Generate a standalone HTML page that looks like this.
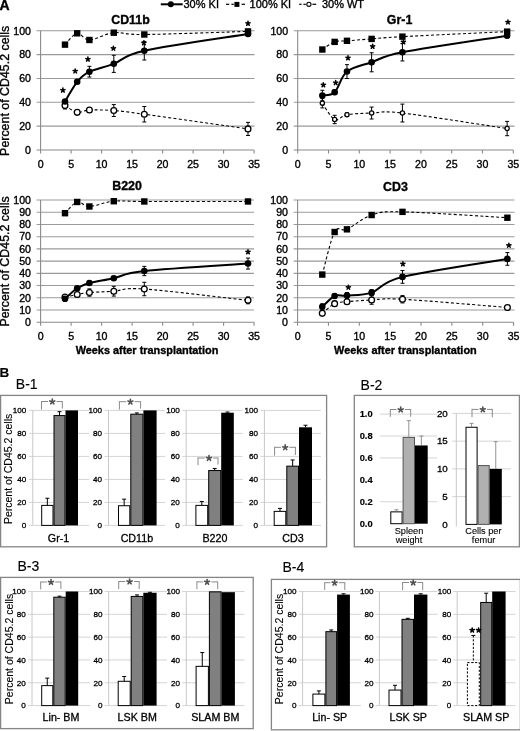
<!DOCTYPE html><html><head><meta charset="utf-8"><style>html,body{margin:0;padding:0;background:#fff;}svg{display:block;font-family:"Liberation Sans", sans-serif;filter:grayscale(1);}text{stroke:#000;stroke-width:0.35px;}.b text{stroke-width:0.12px;}</style></head><body>
<svg width="520" height="731" viewBox="0 0 520 731">
<rect x="0" y="0" width="520" height="731" fill="#fff" stroke="none" stroke-width="0"/>
<text x="-0.5" y="10.4" font-size="14" font-weight="bold" text-anchor="start" fill="#000">A</text>
<line x1="160.8" y1="4.3" x2="182.7" y2="4.3" stroke="#000" stroke-width="2"/>
<circle cx="170.8" cy="4.3" r="3" fill="#000"/>
<text x="183.5" y="8.3" font-size="11" text-anchor="start" fill="#000">30% KI</text>
<line x1="226" y1="4.3" x2="229.2" y2="4.3" stroke="#000" stroke-width="1.2"/>
<line x1="231.4" y1="4.3" x2="233.8" y2="4.3" stroke="#000" stroke-width="1.2"/>
<line x1="241.6" y1="4.3" x2="245" y2="4.3" stroke="#000" stroke-width="1.2"/>
<rect x="234.4" y="1.9" width="5" height="5" fill="#000" stroke="none" stroke-width="0"/>
<text x="249.6" y="8.3" font-size="11" text-anchor="start" fill="#000">100% KI</text>
<line x1="299.2" y1="4.3" x2="301.6" y2="4.3" stroke="#000" stroke-width="1.2"/>
<line x1="303.4" y1="4.3" x2="305.8" y2="4.3" stroke="#000" stroke-width="1.2"/>
<line x1="312.4" y1="4.3" x2="316.2" y2="4.3" stroke="#000" stroke-width="1.2"/>
<circle cx="308.9" cy="4.3" r="2.1" fill="#fff" stroke="#000" stroke-width="1.1"/>
<text x="321.9" y="8.3" font-size="11" text-anchor="start" fill="#000">30% WT</text>
<line x1="36.6" y1="126.16" x2="254.5" y2="126.16" stroke="#9a9a9a" stroke-width="1.1"/>
<line x1="36.6" y1="102.32" x2="254.5" y2="102.32" stroke="#9a9a9a" stroke-width="1.1"/>
<line x1="36.6" y1="78.48" x2="254.5" y2="78.48" stroke="#9a9a9a" stroke-width="1.1"/>
<line x1="36.6" y1="54.64" x2="254.5" y2="54.64" stroke="#9a9a9a" stroke-width="1.1"/>
<line x1="36.6" y1="30.8" x2="254.5" y2="30.8" stroke="#9a9a9a" stroke-width="1.1"/>
<line x1="40.6" y1="30.8" x2="40.6" y2="150" stroke="#8a8a8a" stroke-width="1.1"/>
<line x1="36.6" y1="150" x2="254.1" y2="150" stroke="#8a8a8a" stroke-width="1.1"/>
<line x1="40.6" y1="150" x2="40.6" y2="153.5" stroke="#8a8a8a" stroke-width="1.1"/>
<line x1="71.1" y1="150" x2="71.1" y2="153.5" stroke="#8a8a8a" stroke-width="1.1"/>
<line x1="101.6" y1="150" x2="101.6" y2="153.5" stroke="#8a8a8a" stroke-width="1.1"/>
<line x1="132.1" y1="150" x2="132.1" y2="153.5" stroke="#8a8a8a" stroke-width="1.1"/>
<line x1="162.6" y1="150" x2="162.6" y2="153.5" stroke="#8a8a8a" stroke-width="1.1"/>
<line x1="193.1" y1="150" x2="193.1" y2="153.5" stroke="#8a8a8a" stroke-width="1.1"/>
<line x1="223.6" y1="150" x2="223.6" y2="153.5" stroke="#8a8a8a" stroke-width="1.1"/>
<line x1="254.1" y1="150" x2="254.1" y2="153.5" stroke="#8a8a8a" stroke-width="1.1"/>
<text x="31" y="153.8" font-size="10.6" text-anchor="end" fill="#000">0</text>
<text x="31" y="129.96" font-size="10.6" text-anchor="end" fill="#000">20</text>
<text x="31" y="106.12" font-size="10.6" text-anchor="end" fill="#000">40</text>
<text x="31" y="82.28" font-size="10.6" text-anchor="end" fill="#000">60</text>
<text x="31" y="58.44" font-size="10.6" text-anchor="end" fill="#000">80</text>
<text x="31" y="34.6" font-size="10.6" text-anchor="end" fill="#000">100</text>
<text x="40.6" y="167.6" font-size="10.6" text-anchor="middle" fill="#000">0</text>
<text x="71.1" y="167.6" font-size="10.6" text-anchor="middle" fill="#000">5</text>
<text x="101.6" y="167.6" font-size="10.6" text-anchor="middle" fill="#000">10</text>
<text x="132.1" y="167.6" font-size="10.6" text-anchor="middle" fill="#000">15</text>
<text x="162.6" y="167.6" font-size="10.6" text-anchor="middle" fill="#000">20</text>
<text x="193.1" y="167.6" font-size="10.6" text-anchor="middle" fill="#000">25</text>
<text x="223.6" y="167.6" font-size="10.6" text-anchor="middle" fill="#000">30</text>
<text x="254.1" y="167.6" font-size="10.6" text-anchor="middle" fill="#000">35</text>
<text x="130.5" y="23.6" font-size="12.4" font-weight="bold" text-anchor="middle" fill="#000">CD11b</text>
<path d="M65,44.63 C67.03,42.74 73.13,34.08 77.2,33.3 C81.27,32.53 83.3,40.08 89.4,39.98 C95.5,39.88 104.65,33.62 113.8,32.71 C122.95,31.79 121.93,34.71 144.3,34.5 C166.67,34.28 230.72,31.91 248,31.4" fill="none" stroke="#000" stroke-width="1.1" stroke-dasharray="3 2.3"/>
<path d="M65,105.42 C67.03,106.57 73.13,111.56 77.2,112.33 C81.27,113.11 83.3,110.37 89.4,110.07 C95.5,109.77 104.65,109.85 113.8,110.54 C122.95,111.24 121.93,111.18 144.3,114.24 C166.67,117.3 230.72,126.46 248,128.9" fill="none" stroke="#000" stroke-width="1.1" stroke-dasharray="3 2.3"/>
<path d="M65,101.49 C67.03,98.21 73.13,86.78 77.2,81.82 C81.27,76.85 83.3,74.69 89.4,71.69 C95.5,68.69 104.65,67.31 113.8,63.82 C122.95,60.32 121.93,55.67 144.3,50.71 C166.67,45.74 230.72,36.8 248,34.02" fill="none" stroke="#000" stroke-width="2"/>
<line x1="65" y1="101.84" x2="65" y2="109" stroke="#000" stroke-width="1"/>
<line x1="63" y1="101.84" x2="67" y2="101.84" stroke="#000" stroke-width="1"/>
<line x1="63" y1="109" x2="67" y2="109" stroke="#000" stroke-width="1"/>
<line x1="77.2" y1="109.95" x2="77.2" y2="114.72" stroke="#000" stroke-width="1"/>
<line x1="75.2" y1="109.95" x2="79.2" y2="109.95" stroke="#000" stroke-width="1"/>
<line x1="75.2" y1="114.72" x2="79.2" y2="114.72" stroke="#000" stroke-width="1"/>
<line x1="89.4" y1="108.28" x2="89.4" y2="111.86" stroke="#000" stroke-width="1"/>
<line x1="87.4" y1="108.28" x2="91.4" y2="108.28" stroke="#000" stroke-width="1"/>
<line x1="87.4" y1="111.86" x2="91.4" y2="111.86" stroke="#000" stroke-width="1"/>
<line x1="113.8" y1="104.58" x2="113.8" y2="116.5" stroke="#000" stroke-width="1"/>
<line x1="111.8" y1="104.58" x2="115.8" y2="104.58" stroke="#000" stroke-width="1"/>
<line x1="111.8" y1="116.5" x2="115.8" y2="116.5" stroke="#000" stroke-width="1"/>
<line x1="144.3" y1="106.49" x2="144.3" y2="121.99" stroke="#000" stroke-width="1"/>
<line x1="142.3" y1="106.49" x2="146.3" y2="106.49" stroke="#000" stroke-width="1"/>
<line x1="142.3" y1="121.99" x2="146.3" y2="121.99" stroke="#000" stroke-width="1"/>
<line x1="248" y1="122.35" x2="248" y2="135.46" stroke="#000" stroke-width="1"/>
<line x1="246" y1="122.35" x2="250" y2="122.35" stroke="#000" stroke-width="1"/>
<line x1="246" y1="135.46" x2="250" y2="135.46" stroke="#000" stroke-width="1"/>
<line x1="65" y1="99.7" x2="65" y2="103.27" stroke="#000" stroke-width="1"/>
<line x1="63" y1="99.7" x2="67" y2="99.7" stroke="#000" stroke-width="1"/>
<line x1="63" y1="103.27" x2="67" y2="103.27" stroke="#000" stroke-width="1"/>
<line x1="77.2" y1="80.03" x2="77.2" y2="83.61" stroke="#000" stroke-width="1"/>
<line x1="75.2" y1="80.03" x2="79.2" y2="80.03" stroke="#000" stroke-width="1"/>
<line x1="75.2" y1="83.61" x2="79.2" y2="83.61" stroke="#000" stroke-width="1"/>
<line x1="89.4" y1="66.32" x2="89.4" y2="77.05" stroke="#000" stroke-width="1"/>
<line x1="87.4" y1="66.32" x2="91.4" y2="66.32" stroke="#000" stroke-width="1"/>
<line x1="87.4" y1="77.05" x2="91.4" y2="77.05" stroke="#000" stroke-width="1"/>
<line x1="113.8" y1="55.24" x2="113.8" y2="72.4" stroke="#000" stroke-width="1"/>
<line x1="111.8" y1="55.24" x2="115.8" y2="55.24" stroke="#000" stroke-width="1"/>
<line x1="111.8" y1="72.4" x2="115.8" y2="72.4" stroke="#000" stroke-width="1"/>
<line x1="144.3" y1="41.41" x2="144.3" y2="60" stroke="#000" stroke-width="1"/>
<line x1="142.3" y1="41.41" x2="146.3" y2="41.41" stroke="#000" stroke-width="1"/>
<line x1="142.3" y1="60" x2="146.3" y2="60" stroke="#000" stroke-width="1"/>
<line x1="248" y1="32.23" x2="248" y2="35.81" stroke="#000" stroke-width="1"/>
<line x1="246" y1="32.23" x2="250" y2="32.23" stroke="#000" stroke-width="1"/>
<line x1="246" y1="35.81" x2="250" y2="35.81" stroke="#000" stroke-width="1"/>
<circle cx="65" cy="105.42" r="2.9" fill="#fff" stroke="#000" stroke-width="1.3"/>
<circle cx="77.2" cy="112.33" r="2.9" fill="#fff" stroke="#000" stroke-width="1.3"/>
<circle cx="89.4" cy="110.07" r="2.9" fill="#fff" stroke="#000" stroke-width="1.3"/>
<circle cx="113.8" cy="110.54" r="2.9" fill="#fff" stroke="#000" stroke-width="1.3"/>
<circle cx="144.3" cy="114.24" r="2.9" fill="#fff" stroke="#000" stroke-width="1.3"/>
<circle cx="248" cy="128.9" r="2.9" fill="#fff" stroke="#000" stroke-width="1.3"/>
<circle cx="65" cy="101.49" r="3.3" fill="#000"/>
<circle cx="77.2" cy="81.82" r="3.3" fill="#000"/>
<circle cx="89.4" cy="71.69" r="3.3" fill="#000"/>
<circle cx="113.8" cy="63.82" r="3.3" fill="#000"/>
<circle cx="144.3" cy="50.71" r="3.3" fill="#000"/>
<circle cx="248" cy="34.02" r="3.3" fill="#000"/>
<rect x="61.8" y="41.43" width="6.4" height="6.4" fill="#000" stroke="none" stroke-width="0"/>
<rect x="74" y="30.1" width="6.4" height="6.4" fill="#000" stroke="none" stroke-width="0"/>
<rect x="86.2" y="36.78" width="6.4" height="6.4" fill="#000" stroke="none" stroke-width="0"/>
<rect x="110.6" y="29.51" width="6.4" height="6.4" fill="#000" stroke="none" stroke-width="0"/>
<rect x="141.1" y="31.3" width="6.4" height="6.4" fill="#000" stroke="none" stroke-width="0"/>
<rect x="244.8" y="28.2" width="6.4" height="6.4" fill="#000" stroke="none" stroke-width="0"/>
<path d="M62.9,90.3L62.9,88.12M62.9,90.3L64.97,89.63M62.9,90.3L64.18,92.06M62.9,90.3L61.62,92.06M62.9,90.3L60.83,89.63" stroke="#000" stroke-width="1.55" stroke-linecap="round" fill="none"/>
<path d="M75.2,71.1L75.2,68.92M75.2,71.1L77.27,70.43M75.2,71.1L76.48,72.86M75.2,71.1L73.92,72.86M75.2,71.1L73.13,70.43" stroke="#000" stroke-width="1.55" stroke-linecap="round" fill="none"/>
<path d="M87.9,59.3L87.9,57.12M87.9,59.3L89.97,58.63M87.9,59.3L89.18,61.06M87.9,59.3L86.62,61.06M87.9,59.3L85.83,58.63" stroke="#000" stroke-width="1.55" stroke-linecap="round" fill="none"/>
<path d="M113.4,48.4L113.4,46.23M113.4,48.4L115.47,47.73M113.4,48.4L114.68,50.16M113.4,48.4L112.12,50.16M113.4,48.4L111.33,47.73" stroke="#000" stroke-width="1.55" stroke-linecap="round" fill="none"/>
<path d="M143.9,43L143.9,40.83M143.9,43L145.97,42.33M143.9,43L145.18,44.76M143.9,43L142.62,44.76M143.9,43L141.83,42.33" stroke="#000" stroke-width="1.55" stroke-linecap="round" fill="none"/>
<path d="M248,23.5L248,21.32M248,23.5L250.07,22.83M248,23.5L249.28,25.26M248,23.5L246.72,25.26M248,23.5L245.93,22.83" stroke="#000" stroke-width="1.55" stroke-linecap="round" fill="none"/>
<line x1="293.7" y1="126.16" x2="514.5" y2="126.16" stroke="#9a9a9a" stroke-width="1.1"/>
<line x1="293.7" y1="102.32" x2="514.5" y2="102.32" stroke="#9a9a9a" stroke-width="1.1"/>
<line x1="293.7" y1="78.48" x2="514.5" y2="78.48" stroke="#9a9a9a" stroke-width="1.1"/>
<line x1="293.7" y1="54.64" x2="514.5" y2="54.64" stroke="#9a9a9a" stroke-width="1.1"/>
<line x1="293.7" y1="30.8" x2="514.5" y2="30.8" stroke="#9a9a9a" stroke-width="1.1"/>
<line x1="297.7" y1="30.8" x2="297.7" y2="150" stroke="#8a8a8a" stroke-width="1.1"/>
<line x1="293.7" y1="150" x2="513.3" y2="150" stroke="#8a8a8a" stroke-width="1.1"/>
<line x1="297.7" y1="150" x2="297.7" y2="153.5" stroke="#8a8a8a" stroke-width="1.1"/>
<line x1="328.5" y1="150" x2="328.5" y2="153.5" stroke="#8a8a8a" stroke-width="1.1"/>
<line x1="359.3" y1="150" x2="359.3" y2="153.5" stroke="#8a8a8a" stroke-width="1.1"/>
<line x1="390.1" y1="150" x2="390.1" y2="153.5" stroke="#8a8a8a" stroke-width="1.1"/>
<line x1="420.9" y1="150" x2="420.9" y2="153.5" stroke="#8a8a8a" stroke-width="1.1"/>
<line x1="451.7" y1="150" x2="451.7" y2="153.5" stroke="#8a8a8a" stroke-width="1.1"/>
<line x1="482.5" y1="150" x2="482.5" y2="153.5" stroke="#8a8a8a" stroke-width="1.1"/>
<line x1="513.3" y1="150" x2="513.3" y2="153.5" stroke="#8a8a8a" stroke-width="1.1"/>
<text x="288.1" y="153.8" font-size="10.6" text-anchor="end" fill="#000">0</text>
<text x="288.1" y="129.96" font-size="10.6" text-anchor="end" fill="#000">20</text>
<text x="288.1" y="106.12" font-size="10.6" text-anchor="end" fill="#000">40</text>
<text x="288.1" y="82.28" font-size="10.6" text-anchor="end" fill="#000">60</text>
<text x="288.1" y="58.44" font-size="10.6" text-anchor="end" fill="#000">80</text>
<text x="288.1" y="34.6" font-size="10.6" text-anchor="end" fill="#000">100</text>
<text x="297.7" y="167.6" font-size="10.6" text-anchor="middle" fill="#000">0</text>
<text x="328.5" y="167.6" font-size="10.6" text-anchor="middle" fill="#000">5</text>
<text x="359.3" y="167.6" font-size="10.6" text-anchor="middle" fill="#000">10</text>
<text x="390.1" y="167.6" font-size="10.6" text-anchor="middle" fill="#000">15</text>
<text x="420.9" y="167.6" font-size="10.6" text-anchor="middle" fill="#000">20</text>
<text x="451.7" y="167.6" font-size="10.6" text-anchor="middle" fill="#000">25</text>
<text x="482.5" y="167.6" font-size="10.6" text-anchor="middle" fill="#000">30</text>
<text x="513.3" y="167.6" font-size="10.6" text-anchor="middle" fill="#000">35</text>
<text x="399.6" y="23.8" font-size="12.4" font-weight="bold" text-anchor="middle" fill="#000">Gr-1</text>
<path d="M322.34,49.51 C324.39,48.24 330.55,43.34 334.66,41.89 C338.77,40.44 340.82,41.31 346.98,40.81 C353.14,40.32 362.38,39.6 371.62,38.91 C380.86,38.21 379.83,37.85 402.42,36.64 C425.01,35.43 489.69,32.47 507.14,31.63" fill="none" stroke="#000" stroke-width="1.1" stroke-dasharray="3 2.3"/>
<path d="M322.34,103.15 C324.39,105.88 330.55,117.56 334.66,119.48 C338.77,121.41 340.82,115.79 346.98,114.72 C353.14,113.64 362.38,113.33 371.62,113.05 C380.86,112.77 379.83,110.47 402.42,113.05 C425.01,115.63 489.69,125.96 507.14,128.54" fill="none" stroke="#000" stroke-width="1.1" stroke-dasharray="3 2.3"/>
<path d="M322.34,95.53 C324.39,94.97 330.55,96.18 334.66,92.19 C338.77,88.19 340.82,76.55 346.98,71.57 C353.14,66.58 362.38,65.49 371.62,62.27 C380.86,59.05 379.83,56.69 402.42,52.26 C425.01,47.83 489.69,38.45 507.14,35.69" fill="none" stroke="#000" stroke-width="2"/>
<line x1="322.34" y1="98.39" x2="322.34" y2="107.92" stroke="#000" stroke-width="1"/>
<line x1="320.34" y1="98.39" x2="324.34" y2="98.39" stroke="#000" stroke-width="1"/>
<line x1="320.34" y1="107.92" x2="324.34" y2="107.92" stroke="#000" stroke-width="1"/>
<line x1="334.66" y1="115.31" x2="334.66" y2="123.66" stroke="#000" stroke-width="1"/>
<line x1="332.66" y1="115.31" x2="336.66" y2="115.31" stroke="#000" stroke-width="1"/>
<line x1="332.66" y1="123.66" x2="336.66" y2="123.66" stroke="#000" stroke-width="1"/>
<line x1="346.98" y1="112.93" x2="346.98" y2="116.5" stroke="#000" stroke-width="1"/>
<line x1="344.98" y1="112.93" x2="348.98" y2="112.93" stroke="#000" stroke-width="1"/>
<line x1="344.98" y1="116.5" x2="348.98" y2="116.5" stroke="#000" stroke-width="1"/>
<line x1="371.62" y1="107.09" x2="371.62" y2="119.01" stroke="#000" stroke-width="1"/>
<line x1="369.62" y1="107.09" x2="373.62" y2="107.09" stroke="#000" stroke-width="1"/>
<line x1="369.62" y1="119.01" x2="373.62" y2="119.01" stroke="#000" stroke-width="1"/>
<line x1="402.42" y1="104.11" x2="402.42" y2="121.99" stroke="#000" stroke-width="1"/>
<line x1="400.42" y1="104.11" x2="404.42" y2="104.11" stroke="#000" stroke-width="1"/>
<line x1="400.42" y1="121.99" x2="404.42" y2="121.99" stroke="#000" stroke-width="1"/>
<line x1="507.14" y1="121.39" x2="507.14" y2="135.7" stroke="#000" stroke-width="1"/>
<line x1="505.14" y1="121.39" x2="509.14" y2="121.39" stroke="#000" stroke-width="1"/>
<line x1="505.14" y1="135.7" x2="509.14" y2="135.7" stroke="#000" stroke-width="1"/>
<line x1="322.34" y1="90.28" x2="322.34" y2="100.77" stroke="#000" stroke-width="1"/>
<line x1="320.34" y1="90.28" x2="324.34" y2="90.28" stroke="#000" stroke-width="1"/>
<line x1="320.34" y1="100.77" x2="324.34" y2="100.77" stroke="#000" stroke-width="1"/>
<line x1="334.66" y1="89.8" x2="334.66" y2="94.57" stroke="#000" stroke-width="1"/>
<line x1="332.66" y1="89.8" x2="336.66" y2="89.8" stroke="#000" stroke-width="1"/>
<line x1="332.66" y1="94.57" x2="336.66" y2="94.57" stroke="#000" stroke-width="1"/>
<line x1="346.98" y1="64.65" x2="346.98" y2="78.48" stroke="#000" stroke-width="1"/>
<line x1="344.98" y1="64.65" x2="348.98" y2="64.65" stroke="#000" stroke-width="1"/>
<line x1="344.98" y1="78.48" x2="348.98" y2="78.48" stroke="#000" stroke-width="1"/>
<line x1="371.62" y1="52.73" x2="371.62" y2="71.8" stroke="#000" stroke-width="1"/>
<line x1="369.62" y1="52.73" x2="373.62" y2="52.73" stroke="#000" stroke-width="1"/>
<line x1="369.62" y1="71.8" x2="373.62" y2="71.8" stroke="#000" stroke-width="1"/>
<line x1="402.42" y1="43.55" x2="402.42" y2="60.96" stroke="#000" stroke-width="1"/>
<line x1="400.42" y1="43.55" x2="404.42" y2="43.55" stroke="#000" stroke-width="1"/>
<line x1="400.42" y1="60.96" x2="404.42" y2="60.96" stroke="#000" stroke-width="1"/>
<line x1="507.14" y1="33.9" x2="507.14" y2="37.48" stroke="#000" stroke-width="1"/>
<line x1="505.14" y1="33.9" x2="509.14" y2="33.9" stroke="#000" stroke-width="1"/>
<line x1="505.14" y1="37.48" x2="509.14" y2="37.48" stroke="#000" stroke-width="1"/>
<circle cx="322.34" cy="103.15" r="2.1" fill="#fff" stroke="#000" stroke-width="1.3"/>
<circle cx="334.66" cy="119.48" r="2.1" fill="#fff" stroke="#000" stroke-width="1.3"/>
<circle cx="346.98" cy="114.72" r="2.1" fill="#fff" stroke="#000" stroke-width="1.3"/>
<circle cx="371.62" cy="113.05" r="2.1" fill="#fff" stroke="#000" stroke-width="1.3"/>
<circle cx="402.42" cy="113.05" r="2.1" fill="#fff" stroke="#000" stroke-width="1.3"/>
<circle cx="507.14" cy="128.54" r="2.1" fill="#fff" stroke="#000" stroke-width="1.3"/>
<circle cx="322.34" cy="95.53" r="3.3" fill="#000"/>
<circle cx="334.66" cy="92.19" r="3.3" fill="#000"/>
<circle cx="346.98" cy="71.57" r="3.3" fill="#000"/>
<circle cx="371.62" cy="62.27" r="3.3" fill="#000"/>
<circle cx="402.42" cy="52.26" r="3.3" fill="#000"/>
<circle cx="507.14" cy="35.69" r="3.3" fill="#000"/>
<rect x="319.14" y="46.31" width="6.4" height="6.4" fill="#000" stroke="none" stroke-width="0"/>
<rect x="331.46" y="38.69" width="6.4" height="6.4" fill="#000" stroke="none" stroke-width="0"/>
<rect x="343.78" y="37.61" width="6.4" height="6.4" fill="#000" stroke="none" stroke-width="0"/>
<rect x="368.42" y="35.71" width="6.4" height="6.4" fill="#000" stroke="none" stroke-width="0"/>
<rect x="399.22" y="33.44" width="6.4" height="6.4" fill="#000" stroke="none" stroke-width="0"/>
<rect x="503.94" y="28.43" width="6.4" height="6.4" fill="#000" stroke="none" stroke-width="0"/>
<path d="M323.34,85L323.34,82.83M323.34,85L325.41,84.33M323.34,85L324.62,86.76M323.34,85L322.06,86.76M323.34,85L321.27,84.33" stroke="#000" stroke-width="1.55" stroke-linecap="round" fill="none"/>
<path d="M335.66,82.8L335.66,80.62M335.66,82.8L337.73,82.13M335.66,82.8L336.94,84.56M335.66,82.8L334.38,84.56M335.66,82.8L333.59,82.13" stroke="#000" stroke-width="1.55" stroke-linecap="round" fill="none"/>
<path d="M347.98,58L347.98,55.83M347.98,58L350.05,57.33M347.98,58L349.26,59.76M347.98,58L346.7,59.76M347.98,58L345.91,57.33" stroke="#000" stroke-width="1.55" stroke-linecap="round" fill="none"/>
<path d="M372.62,46.5L372.62,44.33M372.62,46.5L374.69,45.83M372.62,46.5L373.9,48.26M372.62,46.5L371.34,48.26M372.62,46.5L370.55,45.83" stroke="#000" stroke-width="1.55" stroke-linecap="round" fill="none"/>
<path d="M403.42,42L403.42,39.83M403.42,42L405.49,41.33M403.42,42L404.7,43.76M403.42,42L402.14,43.76M403.42,42L401.35,41.33" stroke="#000" stroke-width="1.55" stroke-linecap="round" fill="none"/>
<path d="M507.94,22.1L507.94,19.93M507.94,22.1L510.01,21.43M507.94,22.1L509.22,23.86M507.94,22.1L506.66,23.86M507.94,22.1L505.87,21.43" stroke="#000" stroke-width="1.55" stroke-linecap="round" fill="none"/>
<line x1="36.6" y1="310.02" x2="254" y2="310.02" stroke="#9a9a9a" stroke-width="1.1"/>
<line x1="36.6" y1="297.8" x2="254" y2="297.8" stroke="#9a9a9a" stroke-width="1.1"/>
<line x1="36.6" y1="285.57" x2="254" y2="285.57" stroke="#9a9a9a" stroke-width="1.1"/>
<line x1="36.6" y1="273.35" x2="254" y2="273.35" stroke="#9a9a9a" stroke-width="1.1"/>
<line x1="36.6" y1="261.12" x2="254" y2="261.12" stroke="#9a9a9a" stroke-width="1.1"/>
<line x1="36.6" y1="248.9" x2="254" y2="248.9" stroke="#9a9a9a" stroke-width="1.1"/>
<line x1="36.6" y1="236.68" x2="254" y2="236.68" stroke="#9a9a9a" stroke-width="1.1"/>
<line x1="36.6" y1="224.45" x2="254" y2="224.45" stroke="#9a9a9a" stroke-width="1.1"/>
<line x1="36.6" y1="212.23" x2="254" y2="212.23" stroke="#9a9a9a" stroke-width="1.1"/>
<line x1="36.6" y1="200" x2="254" y2="200" stroke="#9a9a9a" stroke-width="1.1"/>
<line x1="40.6" y1="200" x2="40.6" y2="322.25" stroke="#8a8a8a" stroke-width="1.1"/>
<line x1="36.6" y1="322.25" x2="254.1" y2="322.25" stroke="#8a8a8a" stroke-width="1.1"/>
<line x1="40.6" y1="322.25" x2="40.6" y2="325.75" stroke="#8a8a8a" stroke-width="1.1"/>
<line x1="71.1" y1="322.25" x2="71.1" y2="325.75" stroke="#8a8a8a" stroke-width="1.1"/>
<line x1="101.6" y1="322.25" x2="101.6" y2="325.75" stroke="#8a8a8a" stroke-width="1.1"/>
<line x1="132.1" y1="322.25" x2="132.1" y2="325.75" stroke="#8a8a8a" stroke-width="1.1"/>
<line x1="162.6" y1="322.25" x2="162.6" y2="325.75" stroke="#8a8a8a" stroke-width="1.1"/>
<line x1="193.1" y1="322.25" x2="193.1" y2="325.75" stroke="#8a8a8a" stroke-width="1.1"/>
<line x1="223.6" y1="322.25" x2="223.6" y2="325.75" stroke="#8a8a8a" stroke-width="1.1"/>
<line x1="254.1" y1="322.25" x2="254.1" y2="325.75" stroke="#8a8a8a" stroke-width="1.1"/>
<text x="31" y="326.05" font-size="10.6" text-anchor="end" fill="#000">0</text>
<text x="31" y="313.82" font-size="10.6" text-anchor="end" fill="#000">10</text>
<text x="31" y="301.6" font-size="10.6" text-anchor="end" fill="#000">20</text>
<text x="31" y="289.38" font-size="10.6" text-anchor="end" fill="#000">30</text>
<text x="31" y="277.15" font-size="10.6" text-anchor="end" fill="#000">40</text>
<text x="31" y="264.93" font-size="10.6" text-anchor="end" fill="#000">50</text>
<text x="31" y="252.7" font-size="10.6" text-anchor="end" fill="#000">60</text>
<text x="31" y="240.48" font-size="10.6" text-anchor="end" fill="#000">70</text>
<text x="31" y="228.25" font-size="10.6" text-anchor="end" fill="#000">80</text>
<text x="31" y="216.03" font-size="10.6" text-anchor="end" fill="#000">90</text>
<text x="31" y="203.8" font-size="10.6" text-anchor="end" fill="#000">100</text>
<text x="40.6" y="339.6" font-size="10.6" text-anchor="middle" fill="#000">0</text>
<text x="71.1" y="339.6" font-size="10.6" text-anchor="middle" fill="#000">5</text>
<text x="101.6" y="339.6" font-size="10.6" text-anchor="middle" fill="#000">10</text>
<text x="132.1" y="339.6" font-size="10.6" text-anchor="middle" fill="#000">15</text>
<text x="162.6" y="339.6" font-size="10.6" text-anchor="middle" fill="#000">20</text>
<text x="193.1" y="339.6" font-size="10.6" text-anchor="middle" fill="#000">25</text>
<text x="223.6" y="339.6" font-size="10.6" text-anchor="middle" fill="#000">30</text>
<text x="254.1" y="339.6" font-size="10.6" text-anchor="middle" fill="#000">35</text>
<text x="127.1" y="190.2" font-size="12.4" font-weight="bold" text-anchor="middle" fill="#000">B220</text>
<path d="M65,213.2 C67.03,211.33 73.13,203.08 77.2,201.96 C81.27,200.84 83.3,206.6 89.4,206.48 C95.5,206.36 104.65,202.06 113.8,201.22 C122.95,200.39 121.93,201.43 144.3,201.47 C166.67,201.51 230.72,201.47 248,201.47" fill="none" stroke="#000" stroke-width="1.1" stroke-dasharray="3 2.3"/>
<path d="M65,297.07 C67.03,296.64 73.13,295.25 77.2,294.5 C81.27,293.75 83.3,293.09 89.4,292.54 C95.5,291.99 104.65,291.79 113.8,291.2 C122.95,290.61 121.93,287.47 144.3,289 C166.67,290.53 230.72,298.47 248,300.37" fill="none" stroke="#000" stroke-width="1.1" stroke-dasharray="3 2.3"/>
<path d="M65,298.78 C67.03,297.03 73.13,290.89 77.2,288.26 C81.27,285.64 83.3,284.68 89.4,283.01 C95.5,281.34 104.65,280.24 113.8,278.24 C122.95,276.24 121.93,273.47 144.3,271.03 C166.67,268.58 230.72,264.81 248,263.57" fill="none" stroke="#000" stroke-width="2"/>
<line x1="65" y1="295.84" x2="65" y2="298.29" stroke="#000" stroke-width="1"/>
<line x1="63" y1="295.84" x2="67" y2="295.84" stroke="#000" stroke-width="1"/>
<line x1="63" y1="298.29" x2="67" y2="298.29" stroke="#000" stroke-width="1"/>
<line x1="77.2" y1="292.05" x2="77.2" y2="296.94" stroke="#000" stroke-width="1"/>
<line x1="75.2" y1="292.05" x2="79.2" y2="292.05" stroke="#000" stroke-width="1"/>
<line x1="75.2" y1="296.94" x2="79.2" y2="296.94" stroke="#000" stroke-width="1"/>
<line x1="89.4" y1="288.88" x2="89.4" y2="296.21" stroke="#000" stroke-width="1"/>
<line x1="87.4" y1="288.88" x2="91.4" y2="288.88" stroke="#000" stroke-width="1"/>
<line x1="87.4" y1="296.21" x2="91.4" y2="296.21" stroke="#000" stroke-width="1"/>
<line x1="113.8" y1="286.31" x2="113.8" y2="296.09" stroke="#000" stroke-width="1"/>
<line x1="111.8" y1="286.31" x2="115.8" y2="286.31" stroke="#000" stroke-width="1"/>
<line x1="111.8" y1="296.09" x2="115.8" y2="296.09" stroke="#000" stroke-width="1"/>
<line x1="144.3" y1="282.27" x2="144.3" y2="295.72" stroke="#000" stroke-width="1"/>
<line x1="142.3" y1="282.27" x2="146.3" y2="282.27" stroke="#000" stroke-width="1"/>
<line x1="142.3" y1="295.72" x2="146.3" y2="295.72" stroke="#000" stroke-width="1"/>
<line x1="248" y1="296.94" x2="248" y2="303.79" stroke="#000" stroke-width="1"/>
<line x1="246" y1="296.94" x2="250" y2="296.94" stroke="#000" stroke-width="1"/>
<line x1="246" y1="303.79" x2="250" y2="303.79" stroke="#000" stroke-width="1"/>
<line x1="65" y1="296.33" x2="65" y2="301.22" stroke="#000" stroke-width="1"/>
<line x1="63" y1="296.33" x2="67" y2="296.33" stroke="#000" stroke-width="1"/>
<line x1="63" y1="301.22" x2="67" y2="301.22" stroke="#000" stroke-width="1"/>
<line x1="77.2" y1="286.43" x2="77.2" y2="290.1" stroke="#000" stroke-width="1"/>
<line x1="75.2" y1="286.43" x2="79.2" y2="286.43" stroke="#000" stroke-width="1"/>
<line x1="75.2" y1="290.1" x2="79.2" y2="290.1" stroke="#000" stroke-width="1"/>
<line x1="89.4" y1="281.17" x2="89.4" y2="284.84" stroke="#000" stroke-width="1"/>
<line x1="87.4" y1="281.17" x2="91.4" y2="281.17" stroke="#000" stroke-width="1"/>
<line x1="87.4" y1="284.84" x2="91.4" y2="284.84" stroke="#000" stroke-width="1"/>
<line x1="113.8" y1="276.41" x2="113.8" y2="280.07" stroke="#000" stroke-width="1"/>
<line x1="111.8" y1="276.41" x2="115.8" y2="276.41" stroke="#000" stroke-width="1"/>
<line x1="111.8" y1="280.07" x2="115.8" y2="280.07" stroke="#000" stroke-width="1"/>
<line x1="144.3" y1="266.38" x2="144.3" y2="275.67" stroke="#000" stroke-width="1"/>
<line x1="142.3" y1="266.38" x2="146.3" y2="266.38" stroke="#000" stroke-width="1"/>
<line x1="142.3" y1="275.67" x2="146.3" y2="275.67" stroke="#000" stroke-width="1"/>
<line x1="248" y1="258.07" x2="248" y2="269.07" stroke="#000" stroke-width="1"/>
<line x1="246" y1="258.07" x2="250" y2="258.07" stroke="#000" stroke-width="1"/>
<line x1="246" y1="269.07" x2="250" y2="269.07" stroke="#000" stroke-width="1"/>
<circle cx="65" cy="297.07" r="2.9" fill="#fff" stroke="#000" stroke-width="1.3"/>
<circle cx="77.2" cy="294.5" r="2.9" fill="#fff" stroke="#000" stroke-width="1.3"/>
<circle cx="89.4" cy="292.54" r="2.9" fill="#fff" stroke="#000" stroke-width="1.3"/>
<circle cx="113.8" cy="291.2" r="2.9" fill="#fff" stroke="#000" stroke-width="1.3"/>
<circle cx="144.3" cy="289" r="2.9" fill="#fff" stroke="#000" stroke-width="1.3"/>
<circle cx="248" cy="300.37" r="2.9" fill="#fff" stroke="#000" stroke-width="1.3"/>
<circle cx="65" cy="298.78" r="3.3" fill="#000"/>
<circle cx="77.2" cy="288.26" r="3.3" fill="#000"/>
<circle cx="89.4" cy="283.01" r="3.3" fill="#000"/>
<circle cx="113.8" cy="278.24" r="3.3" fill="#000"/>
<circle cx="144.3" cy="271.03" r="3.3" fill="#000"/>
<circle cx="248" cy="263.57" r="3.3" fill="#000"/>
<rect x="61.8" y="210" width="6.4" height="6.4" fill="#000" stroke="none" stroke-width="0"/>
<rect x="74" y="198.76" width="6.4" height="6.4" fill="#000" stroke="none" stroke-width="0"/>
<rect x="86.2" y="203.28" width="6.4" height="6.4" fill="#000" stroke="none" stroke-width="0"/>
<rect x="110.6" y="198.02" width="6.4" height="6.4" fill="#000" stroke="none" stroke-width="0"/>
<rect x="141.1" y="198.27" width="6.4" height="6.4" fill="#000" stroke="none" stroke-width="0"/>
<rect x="244.8" y="198.27" width="6.4" height="6.4" fill="#000" stroke="none" stroke-width="0"/>
<path d="M248,252L248,249.82M248,252L250.07,251.33M248,252L249.28,253.76M248,252L246.72,253.76M248,252L245.93,251.33" stroke="#000" stroke-width="1.55" stroke-linecap="round" fill="none"/>
<line x1="293.6" y1="310.02" x2="514.5" y2="310.02" stroke="#9a9a9a" stroke-width="1.1"/>
<line x1="293.6" y1="297.8" x2="514.5" y2="297.8" stroke="#9a9a9a" stroke-width="1.1"/>
<line x1="293.6" y1="285.57" x2="514.5" y2="285.57" stroke="#9a9a9a" stroke-width="1.1"/>
<line x1="293.6" y1="273.35" x2="514.5" y2="273.35" stroke="#9a9a9a" stroke-width="1.1"/>
<line x1="293.6" y1="261.12" x2="514.5" y2="261.12" stroke="#9a9a9a" stroke-width="1.1"/>
<line x1="293.6" y1="248.9" x2="514.5" y2="248.9" stroke="#9a9a9a" stroke-width="1.1"/>
<line x1="293.6" y1="236.68" x2="514.5" y2="236.68" stroke="#9a9a9a" stroke-width="1.1"/>
<line x1="293.6" y1="224.45" x2="514.5" y2="224.45" stroke="#9a9a9a" stroke-width="1.1"/>
<line x1="293.6" y1="212.23" x2="514.5" y2="212.23" stroke="#9a9a9a" stroke-width="1.1"/>
<line x1="293.6" y1="200" x2="514.5" y2="200" stroke="#9a9a9a" stroke-width="1.1"/>
<line x1="297.6" y1="200" x2="297.6" y2="322.25" stroke="#8a8a8a" stroke-width="1.1"/>
<line x1="293.6" y1="322.25" x2="513.55" y2="322.25" stroke="#8a8a8a" stroke-width="1.1"/>
<line x1="297.6" y1="322.25" x2="297.6" y2="325.75" stroke="#8a8a8a" stroke-width="1.1"/>
<line x1="328.45" y1="322.25" x2="328.45" y2="325.75" stroke="#8a8a8a" stroke-width="1.1"/>
<line x1="359.3" y1="322.25" x2="359.3" y2="325.75" stroke="#8a8a8a" stroke-width="1.1"/>
<line x1="390.15" y1="322.25" x2="390.15" y2="325.75" stroke="#8a8a8a" stroke-width="1.1"/>
<line x1="421" y1="322.25" x2="421" y2="325.75" stroke="#8a8a8a" stroke-width="1.1"/>
<line x1="451.85" y1="322.25" x2="451.85" y2="325.75" stroke="#8a8a8a" stroke-width="1.1"/>
<line x1="482.7" y1="322.25" x2="482.7" y2="325.75" stroke="#8a8a8a" stroke-width="1.1"/>
<line x1="513.55" y1="322.25" x2="513.55" y2="325.75" stroke="#8a8a8a" stroke-width="1.1"/>
<text x="288" y="326.05" font-size="10.6" text-anchor="end" fill="#000">0</text>
<text x="288" y="313.82" font-size="10.6" text-anchor="end" fill="#000">10</text>
<text x="288" y="301.6" font-size="10.6" text-anchor="end" fill="#000">20</text>
<text x="288" y="289.38" font-size="10.6" text-anchor="end" fill="#000">30</text>
<text x="288" y="277.15" font-size="10.6" text-anchor="end" fill="#000">40</text>
<text x="288" y="264.93" font-size="10.6" text-anchor="end" fill="#000">50</text>
<text x="288" y="252.7" font-size="10.6" text-anchor="end" fill="#000">60</text>
<text x="288" y="240.48" font-size="10.6" text-anchor="end" fill="#000">70</text>
<text x="288" y="228.25" font-size="10.6" text-anchor="end" fill="#000">80</text>
<text x="288" y="216.03" font-size="10.6" text-anchor="end" fill="#000">90</text>
<text x="288" y="203.8" font-size="10.6" text-anchor="end" fill="#000">100</text>
<text x="297.6" y="339.6" font-size="10.6" text-anchor="middle" fill="#000">0</text>
<text x="328.45" y="339.6" font-size="10.6" text-anchor="middle" fill="#000">5</text>
<text x="359.3" y="339.6" font-size="10.6" text-anchor="middle" fill="#000">10</text>
<text x="390.15" y="339.6" font-size="10.6" text-anchor="middle" fill="#000">15</text>
<text x="421" y="339.6" font-size="10.6" text-anchor="middle" fill="#000">20</text>
<text x="451.85" y="339.6" font-size="10.6" text-anchor="middle" fill="#000">25</text>
<text x="482.7" y="339.6" font-size="10.6" text-anchor="middle" fill="#000">30</text>
<text x="513.55" y="339.6" font-size="10.6" text-anchor="middle" fill="#000">35</text>
<text x="395.5" y="190.8" font-size="12.4" font-weight="bold" text-anchor="middle" fill="#000">CD3</text>
<path d="M322.28,274.57 C324.34,267.48 330.51,239.57 334.62,232.03 C338.73,224.49 340.79,232.17 346.96,229.34 C353.13,226.51 362.38,217.95 371.64,215.04 C380.89,212.12 379.87,211.41 402.49,211.86 C425.11,212.31 489.9,216.75 507.38,217.73" fill="none" stroke="#000" stroke-width="1.1" stroke-dasharray="3 2.3"/>
<path d="M322.28,313.33 C324.34,311.72 330.51,305.6 334.62,303.67 C338.73,301.73 340.79,302.32 346.96,301.71 C353.13,301.1 362.38,300.41 371.64,300 C380.89,299.59 379.87,298.02 402.49,299.27 C425.11,300.51 489.9,306.09 507.38,307.46" fill="none" stroke="#000" stroke-width="1.1" stroke-dasharray="3 2.3"/>
<path d="M322.28,306.85 C324.34,305.03 330.51,297.84 334.62,295.97 C338.73,294.09 340.79,296.15 346.96,295.6 C353.13,295.05 362.38,295.78 371.64,292.67 C380.89,289.55 379.87,282.52 402.49,276.9 C425.11,271.27 489.9,261.92 507.38,258.92" fill="none" stroke="#000" stroke-width="2"/>
<line x1="322.28" y1="312.1" x2="322.28" y2="314.55" stroke="#000" stroke-width="1"/>
<line x1="320.28" y1="312.1" x2="324.28" y2="312.1" stroke="#000" stroke-width="1"/>
<line x1="320.28" y1="314.55" x2="324.28" y2="314.55" stroke="#000" stroke-width="1"/>
<line x1="334.62" y1="301.22" x2="334.62" y2="306.11" stroke="#000" stroke-width="1"/>
<line x1="332.62" y1="301.22" x2="336.62" y2="301.22" stroke="#000" stroke-width="1"/>
<line x1="332.62" y1="306.11" x2="336.62" y2="306.11" stroke="#000" stroke-width="1"/>
<line x1="346.96" y1="299.27" x2="346.96" y2="304.16" stroke="#000" stroke-width="1"/>
<line x1="344.96" y1="299.27" x2="348.96" y2="299.27" stroke="#000" stroke-width="1"/>
<line x1="344.96" y1="304.16" x2="348.96" y2="304.16" stroke="#000" stroke-width="1"/>
<line x1="371.64" y1="295.72" x2="371.64" y2="304.28" stroke="#000" stroke-width="1"/>
<line x1="369.64" y1="295.72" x2="373.64" y2="295.72" stroke="#000" stroke-width="1"/>
<line x1="369.64" y1="304.28" x2="373.64" y2="304.28" stroke="#000" stroke-width="1"/>
<line x1="402.49" y1="295.6" x2="402.49" y2="302.93" stroke="#000" stroke-width="1"/>
<line x1="400.49" y1="295.6" x2="404.49" y2="295.6" stroke="#000" stroke-width="1"/>
<line x1="400.49" y1="302.93" x2="404.49" y2="302.93" stroke="#000" stroke-width="1"/>
<line x1="507.38" y1="305.62" x2="507.38" y2="309.29" stroke="#000" stroke-width="1"/>
<line x1="505.38" y1="305.62" x2="509.38" y2="305.62" stroke="#000" stroke-width="1"/>
<line x1="505.38" y1="309.29" x2="509.38" y2="309.29" stroke="#000" stroke-width="1"/>
<line x1="322.28" y1="303.79" x2="322.28" y2="309.9" stroke="#000" stroke-width="1"/>
<line x1="320.28" y1="303.79" x2="324.28" y2="303.79" stroke="#000" stroke-width="1"/>
<line x1="320.28" y1="309.9" x2="324.28" y2="309.9" stroke="#000" stroke-width="1"/>
<line x1="334.62" y1="294.13" x2="334.62" y2="297.8" stroke="#000" stroke-width="1"/>
<line x1="332.62" y1="294.13" x2="336.62" y2="294.13" stroke="#000" stroke-width="1"/>
<line x1="332.62" y1="297.8" x2="336.62" y2="297.8" stroke="#000" stroke-width="1"/>
<line x1="346.96" y1="292.54" x2="346.96" y2="298.66" stroke="#000" stroke-width="1"/>
<line x1="344.96" y1="292.54" x2="348.96" y2="292.54" stroke="#000" stroke-width="1"/>
<line x1="344.96" y1="298.66" x2="348.96" y2="298.66" stroke="#000" stroke-width="1"/>
<line x1="371.64" y1="289.61" x2="371.64" y2="295.72" stroke="#000" stroke-width="1"/>
<line x1="369.64" y1="289.61" x2="373.64" y2="289.61" stroke="#000" stroke-width="1"/>
<line x1="369.64" y1="295.72" x2="373.64" y2="295.72" stroke="#000" stroke-width="1"/>
<line x1="402.49" y1="270.54" x2="402.49" y2="283.25" stroke="#000" stroke-width="1"/>
<line x1="400.49" y1="270.54" x2="404.49" y2="270.54" stroke="#000" stroke-width="1"/>
<line x1="400.49" y1="283.25" x2="404.49" y2="283.25" stroke="#000" stroke-width="1"/>
<line x1="507.38" y1="252.57" x2="507.38" y2="265.28" stroke="#000" stroke-width="1"/>
<line x1="505.38" y1="252.57" x2="509.38" y2="252.57" stroke="#000" stroke-width="1"/>
<line x1="505.38" y1="265.28" x2="509.38" y2="265.28" stroke="#000" stroke-width="1"/>
<circle cx="322.28" cy="313.33" r="2.9" fill="#fff" stroke="#000" stroke-width="1.3"/>
<circle cx="334.62" cy="303.67" r="2.9" fill="#fff" stroke="#000" stroke-width="1.3"/>
<circle cx="346.96" cy="301.71" r="2.9" fill="#fff" stroke="#000" stroke-width="1.3"/>
<circle cx="371.64" cy="300" r="2.9" fill="#fff" stroke="#000" stroke-width="1.3"/>
<circle cx="402.49" cy="299.27" r="2.9" fill="#fff" stroke="#000" stroke-width="1.3"/>
<circle cx="507.38" cy="307.46" r="2.9" fill="#fff" stroke="#000" stroke-width="1.3"/>
<circle cx="322.28" cy="306.85" r="3.3" fill="#000"/>
<circle cx="334.62" cy="295.97" r="3.3" fill="#000"/>
<circle cx="346.96" cy="295.6" r="3.3" fill="#000"/>
<circle cx="371.64" cy="292.67" r="3.3" fill="#000"/>
<circle cx="402.49" cy="276.9" r="3.3" fill="#000"/>
<circle cx="507.38" cy="258.92" r="3.3" fill="#000"/>
<rect x="319.08" y="271.37" width="6.4" height="6.4" fill="#000" stroke="none" stroke-width="0"/>
<rect x="331.42" y="228.83" width="6.4" height="6.4" fill="#000" stroke="none" stroke-width="0"/>
<rect x="343.76" y="226.14" width="6.4" height="6.4" fill="#000" stroke="none" stroke-width="0"/>
<rect x="368.44" y="211.84" width="6.4" height="6.4" fill="#000" stroke="none" stroke-width="0"/>
<rect x="399.29" y="208.66" width="6.4" height="6.4" fill="#000" stroke="none" stroke-width="0"/>
<rect x="504.18" y="214.53" width="6.4" height="6.4" fill="#000" stroke="none" stroke-width="0"/>
<path d="M348.36,287.4L348.36,285.22M348.36,287.4L350.43,286.73M348.36,287.4L349.64,289.16M348.36,287.4L347.08,289.16M348.36,287.4L346.29,286.73" stroke="#000" stroke-width="1.55" stroke-linecap="round" fill="none"/>
<path d="M402.89,264L402.89,261.82M402.89,264L404.96,263.33M402.89,264L404.17,265.76M402.89,264L401.61,265.76M402.89,264L400.82,263.33" stroke="#000" stroke-width="1.55" stroke-linecap="round" fill="none"/>
<path d="M508.88,245.4L508.88,243.22M508.88,245.4L510.95,244.73M508.88,245.4L510.16,247.16M508.88,245.4L507.6,247.16M508.88,245.4L506.81,244.73" stroke="#000" stroke-width="1.55" stroke-linecap="round" fill="none"/>
<text x="0" y="0" font-size="12.4" text-anchor="middle" fill="#000" transform="translate(9.2,90.8) rotate(-90)">Percent of CD45.2 cells</text>
<text x="0" y="0" font-size="12.4" text-anchor="middle" fill="#000" transform="translate(9.0,261.5) rotate(-90)">Percent of CD45.2 cells</text>
<text x="147" y="354.4" font-size="10.9" font-weight="bold" text-anchor="middle" fill="#000">Weeks after transplantation</text>
<text x="405.4" y="354.4" font-size="10.9" font-weight="bold" text-anchor="middle" fill="#000">Weeks after transplantation</text>
<g class="b">
<text x="-0.5" y="377.3" font-size="13.5" font-weight="bold" text-anchor="start" fill="#000">B</text>
<text x="15.8" y="388.6" font-size="14" text-anchor="start" fill="#000">B-1</text>
<text x="360.6" y="389.5" font-size="14" text-anchor="start" fill="#000">B-2</text>
<text x="17.4" y="571" font-size="14" text-anchor="start" fill="#000">B-3</text>
<text x="282.5" y="572.2" font-size="14" text-anchor="start" fill="#000">B-4</text>
<rect x="0.6" y="395.4" width="326" height="151.4" fill="none" stroke="#858585" stroke-width="1.3"/>
<rect x="354.3" y="395.4" width="165.1" height="151.4" fill="none" stroke="#858585" stroke-width="1.3"/>
<rect x="0.6" y="577.4" width="252.6" height="151.2" fill="none" stroke="#858585" stroke-width="1.3"/>
<rect x="271.4" y="579.4" width="249" height="150.4" fill="none" stroke="#858585" stroke-width="1.3"/>
<text x="0" y="0" font-size="10.5" text-anchor="middle" fill="#000" transform="translate(12.4,468.9) rotate(-90)">Percent of CD45.2 cells</text>
<text x="0" y="0" font-size="10.5" text-anchor="middle" fill="#000" transform="translate(12.6,649.0) rotate(-90)">Percent of CD45.2 cells</text>
<text x="0" y="0" font-size="10.5" text-anchor="middle" fill="#000" transform="translate(282.7,649.0) rotate(-90)">Percent of CD45.2 cells</text>
<line x1="28.8" y1="502.4" x2="89.3" y2="502.4" stroke="#d4d4d4" stroke-width="1"/>
<line x1="28.8" y1="479.4" x2="89.3" y2="479.4" stroke="#d4d4d4" stroke-width="1"/>
<line x1="28.8" y1="456.4" x2="89.3" y2="456.4" stroke="#d4d4d4" stroke-width="1"/>
<line x1="28.8" y1="433.4" x2="89.3" y2="433.4" stroke="#d4d4d4" stroke-width="1"/>
<line x1="28.8" y1="410.4" x2="89.3" y2="410.4" stroke="#d4d4d4" stroke-width="1"/>
<line x1="32.8" y1="410.4" x2="32.8" y2="525.4" stroke="#c8c8c8" stroke-width="1"/>
<line x1="28.8" y1="525.4" x2="89.3" y2="525.4" stroke="#d4d4d4" stroke-width="1"/>
<text x="26.3" y="528.15" font-size="8.1" text-anchor="end" fill="#000" style="stroke-width:0.3px">0</text>
<text x="26.3" y="505.15" font-size="8.1" text-anchor="end" fill="#000" style="stroke-width:0.3px">20</text>
<text x="26.3" y="482.15" font-size="8.1" text-anchor="end" fill="#000" style="stroke-width:0.3px">40</text>
<text x="26.3" y="459.15" font-size="8.1" text-anchor="end" fill="#000" style="stroke-width:0.3px">60</text>
<text x="26.3" y="436.15" font-size="8.1" text-anchor="end" fill="#000" style="stroke-width:0.3px">80</text>
<text x="26.3" y="413.15" font-size="8.1" text-anchor="end" fill="#000" style="stroke-width:0.3px">100</text>
<rect x="41.7" y="505.39" width="11.3" height="20.01" fill="#fff" stroke="#000" stroke-width="1"/>
<line x1="47.35" y1="498.26" x2="47.35" y2="505.39" stroke="#000" stroke-width="1"/>
<line x1="45.35" y1="498.26" x2="49.35" y2="498.26" stroke="#000" stroke-width="1"/>
<rect x="54" y="415.57" width="11" height="109.82" fill="#808080" stroke="#000" stroke-width="1"/>
<line x1="59.5" y1="411.66" x2="59.5" y2="415.57" stroke="#000" stroke-width="1"/>
<line x1="57.5" y1="411.66" x2="61.5" y2="411.66" stroke="#000" stroke-width="1"/>
<rect x="65.5" y="410.4" width="12.5" height="115" fill="#000" stroke="none" stroke-width="0"/>
<text x="58.5" y="542" font-size="10.7" text-anchor="middle" fill="#000" style="stroke-width:0.3px">Gr-1</text>
<line x1="41.5" y1="401.5" x2="48.1" y2="401.5" stroke="#8a8a8a" stroke-width="1"/>
<line x1="56.5" y1="401.5" x2="62.3" y2="401.5" stroke="#8a8a8a" stroke-width="1"/>
<line x1="41.5" y1="401" x2="41.5" y2="409.6" stroke="#8a8a8a" stroke-width="1"/>
<line x1="62.3" y1="401" x2="62.3" y2="408.5" stroke="#8a8a8a" stroke-width="1"/>
<path d="M52.3,401.7L52.3,399.1M52.3,401.7L54.77,400.9M52.3,401.7L53.83,403.8M52.3,401.7L50.77,403.8M52.3,401.7L49.83,400.9" stroke="#505050" stroke-width="1.6" stroke-linecap="round" fill="none"/>
<line x1="104.5" y1="502.4" x2="165" y2="502.4" stroke="#d4d4d4" stroke-width="1"/>
<line x1="104.5" y1="479.4" x2="165" y2="479.4" stroke="#d4d4d4" stroke-width="1"/>
<line x1="104.5" y1="456.4" x2="165" y2="456.4" stroke="#d4d4d4" stroke-width="1"/>
<line x1="104.5" y1="433.4" x2="165" y2="433.4" stroke="#d4d4d4" stroke-width="1"/>
<line x1="104.5" y1="410.4" x2="165" y2="410.4" stroke="#d4d4d4" stroke-width="1"/>
<line x1="108.5" y1="410.4" x2="108.5" y2="525.4" stroke="#c8c8c8" stroke-width="1"/>
<line x1="104.5" y1="525.4" x2="165" y2="525.4" stroke="#d4d4d4" stroke-width="1"/>
<text x="102" y="528.15" font-size="8.1" text-anchor="end" fill="#000" style="stroke-width:0.3px">0</text>
<text x="102" y="505.15" font-size="8.1" text-anchor="end" fill="#000" style="stroke-width:0.3px">20</text>
<text x="102" y="482.15" font-size="8.1" text-anchor="end" fill="#000" style="stroke-width:0.3px">40</text>
<text x="102" y="459.15" font-size="8.1" text-anchor="end" fill="#000" style="stroke-width:0.3px">60</text>
<text x="102" y="436.15" font-size="8.1" text-anchor="end" fill="#000" style="stroke-width:0.3px">80</text>
<text x="102" y="413.15" font-size="8.1" text-anchor="end" fill="#000" style="stroke-width:0.3px">100</text>
<rect x="118.5" y="505.73" width="11.3" height="19.67" fill="#fff" stroke="#000" stroke-width="1"/>
<line x1="124.15" y1="499.18" x2="124.15" y2="505.73" stroke="#000" stroke-width="1"/>
<line x1="122.15" y1="499.18" x2="126.15" y2="499.18" stroke="#000" stroke-width="1"/>
<rect x="130.8" y="414.19" width="12.1" height="111.2" fill="#808080" stroke="#000" stroke-width="1"/>
<line x1="136.85" y1="412.93" x2="136.85" y2="414.19" stroke="#000" stroke-width="1"/>
<line x1="134.85" y1="412.93" x2="138.85" y2="412.93" stroke="#000" stroke-width="1"/>
<rect x="143.4" y="410.4" width="13.2" height="115" fill="#000" stroke="none" stroke-width="0"/>
<text x="136.9" y="542" font-size="10.7" text-anchor="middle" fill="#000" style="stroke-width:0.3px">CD11b</text>
<line x1="119.4" y1="401.7" x2="126.2" y2="401.7" stroke="#8a8a8a" stroke-width="1"/>
<line x1="134.6" y1="401.7" x2="140.6" y2="401.7" stroke="#8a8a8a" stroke-width="1"/>
<line x1="119.4" y1="401.2" x2="119.4" y2="409.6" stroke="#8a8a8a" stroke-width="1"/>
<line x1="140.6" y1="401.2" x2="140.6" y2="408.6" stroke="#8a8a8a" stroke-width="1"/>
<path d="M130.4,401.9L130.4,399.3M130.4,401.9L132.87,401.1M130.4,401.9L131.93,404M130.4,401.9L128.87,404M130.4,401.9L127.93,401.1" stroke="#505050" stroke-width="1.6" stroke-linecap="round" fill="none"/>
<line x1="182.2" y1="502.4" x2="242.7" y2="502.4" stroke="#d4d4d4" stroke-width="1"/>
<line x1="182.2" y1="479.4" x2="242.7" y2="479.4" stroke="#d4d4d4" stroke-width="1"/>
<line x1="182.2" y1="456.4" x2="242.7" y2="456.4" stroke="#d4d4d4" stroke-width="1"/>
<line x1="182.2" y1="433.4" x2="242.7" y2="433.4" stroke="#d4d4d4" stroke-width="1"/>
<line x1="182.2" y1="410.4" x2="242.7" y2="410.4" stroke="#d4d4d4" stroke-width="1"/>
<line x1="186.2" y1="410.4" x2="186.2" y2="525.4" stroke="#c8c8c8" stroke-width="1"/>
<line x1="182.2" y1="525.4" x2="242.7" y2="525.4" stroke="#d4d4d4" stroke-width="1"/>
<text x="179.7" y="528.15" font-size="8.1" text-anchor="end" fill="#000" style="stroke-width:0.3px">0</text>
<text x="179.7" y="505.15" font-size="8.1" text-anchor="end" fill="#000" style="stroke-width:0.3px">20</text>
<text x="179.7" y="482.15" font-size="8.1" text-anchor="end" fill="#000" style="stroke-width:0.3px">40</text>
<text x="179.7" y="459.15" font-size="8.1" text-anchor="end" fill="#000" style="stroke-width:0.3px">60</text>
<text x="179.7" y="436.15" font-size="8.1" text-anchor="end" fill="#000" style="stroke-width:0.3px">80</text>
<text x="179.7" y="413.15" font-size="8.1" text-anchor="end" fill="#000" style="stroke-width:0.3px">100</text>
<rect x="195.9" y="505.39" width="11.8" height="20.01" fill="#fff" stroke="#000" stroke-width="1"/>
<line x1="201.8" y1="501.48" x2="201.8" y2="505.39" stroke="#000" stroke-width="1"/>
<line x1="199.8" y1="501.48" x2="203.8" y2="501.48" stroke="#000" stroke-width="1"/>
<rect x="208.7" y="470.54" width="12" height="54.86" fill="#808080" stroke="#000" stroke-width="1"/>
<line x1="214.7" y1="468.47" x2="214.7" y2="470.54" stroke="#000" stroke-width="1"/>
<line x1="212.7" y1="468.47" x2="216.7" y2="468.47" stroke="#000" stroke-width="1"/>
<rect x="221.2" y="412.7" width="12.6" height="112.7" fill="#000" stroke="none" stroke-width="0"/>
<line x1="227.5" y1="412.01" x2="227.5" y2="412.7" stroke="#000" stroke-width="1"/>
<line x1="225.5" y1="412.01" x2="229.5" y2="412.01" stroke="#000" stroke-width="1"/>
<text x="214.9" y="542" font-size="10.7" text-anchor="middle" fill="#000" style="stroke-width:0.3px">B220</text>
<line x1="198" y1="458" x2="204.8" y2="458" stroke="#8a8a8a" stroke-width="1"/>
<line x1="213.2" y1="458" x2="218" y2="458" stroke="#8a8a8a" stroke-width="1"/>
<line x1="198" y1="457.5" x2="198" y2="465.2" stroke="#8a8a8a" stroke-width="1"/>
<line x1="218" y1="457.5" x2="218" y2="464.5" stroke="#8a8a8a" stroke-width="1"/>
<path d="M209,458.2L209,455.6M209,458.2L211.47,457.4M209,458.2L210.53,460.3M209,458.2L207.47,460.3M209,458.2L206.53,457.4" stroke="#505050" stroke-width="1.6" stroke-linecap="round" fill="none"/>
<line x1="260.4" y1="502.4" x2="320.9" y2="502.4" stroke="#d4d4d4" stroke-width="1"/>
<line x1="260.4" y1="479.4" x2="320.9" y2="479.4" stroke="#d4d4d4" stroke-width="1"/>
<line x1="260.4" y1="456.4" x2="320.9" y2="456.4" stroke="#d4d4d4" stroke-width="1"/>
<line x1="260.4" y1="433.4" x2="320.9" y2="433.4" stroke="#d4d4d4" stroke-width="1"/>
<line x1="260.4" y1="410.4" x2="320.9" y2="410.4" stroke="#d4d4d4" stroke-width="1"/>
<line x1="264.4" y1="410.4" x2="264.4" y2="525.4" stroke="#c8c8c8" stroke-width="1"/>
<line x1="260.4" y1="525.4" x2="320.9" y2="525.4" stroke="#d4d4d4" stroke-width="1"/>
<text x="257.9" y="528.15" font-size="8.1" text-anchor="end" fill="#000" style="stroke-width:0.3px">0</text>
<text x="257.9" y="505.15" font-size="8.1" text-anchor="end" fill="#000" style="stroke-width:0.3px">20</text>
<text x="257.9" y="482.15" font-size="8.1" text-anchor="end" fill="#000" style="stroke-width:0.3px">40</text>
<text x="257.9" y="459.15" font-size="8.1" text-anchor="end" fill="#000" style="stroke-width:0.3px">60</text>
<text x="257.9" y="436.15" font-size="8.1" text-anchor="end" fill="#000" style="stroke-width:0.3px">80</text>
<text x="257.9" y="413.15" font-size="8.1" text-anchor="end" fill="#000" style="stroke-width:0.3px">100</text>
<rect x="274.2" y="511.37" width="11.6" height="14.03" fill="#fff" stroke="#000" stroke-width="1"/>
<line x1="280" y1="508.38" x2="280" y2="511.37" stroke="#000" stroke-width="1"/>
<line x1="278" y1="508.38" x2="282" y2="508.38" stroke="#000" stroke-width="1"/>
<rect x="286.8" y="466.17" width="11.7" height="59.23" fill="#808080" stroke="#000" stroke-width="1"/>
<line x1="292.65" y1="459.96" x2="292.65" y2="466.17" stroke="#000" stroke-width="1"/>
<line x1="290.65" y1="459.96" x2="294.65" y2="459.96" stroke="#000" stroke-width="1"/>
<rect x="299" y="427.31" width="13" height="98.09" fill="#000" stroke="none" stroke-width="0"/>
<line x1="305.5" y1="425.24" x2="305.5" y2="427.31" stroke="#000" stroke-width="1"/>
<line x1="303.5" y1="425.24" x2="307.5" y2="425.24" stroke="#000" stroke-width="1"/>
<text x="292.9" y="542" font-size="10.7" text-anchor="middle" fill="#000" style="stroke-width:0.3px">CD3</text>
<line x1="274.6" y1="447.3" x2="281" y2="447.3" stroke="#8a8a8a" stroke-width="1"/>
<line x1="289.4" y1="447.3" x2="295.4" y2="447.3" stroke="#8a8a8a" stroke-width="1"/>
<line x1="274.6" y1="446.8" x2="274.6" y2="455.6" stroke="#8a8a8a" stroke-width="1"/>
<line x1="295.4" y1="446.8" x2="295.4" y2="455" stroke="#8a8a8a" stroke-width="1"/>
<path d="M285.2,447.5L285.2,444.9M285.2,447.5L287.67,446.7M285.2,447.5L286.73,449.6M285.2,447.5L283.67,449.6M285.2,447.5L282.73,446.7" stroke="#505050" stroke-width="1.6" stroke-linecap="round" fill="none"/>
<line x1="28" y1="682.78" x2="90.3" y2="682.78" stroke="#d4d4d4" stroke-width="1"/>
<line x1="28" y1="659.96" x2="90.3" y2="659.96" stroke="#d4d4d4" stroke-width="1"/>
<line x1="28" y1="637.14" x2="90.3" y2="637.14" stroke="#d4d4d4" stroke-width="1"/>
<line x1="28" y1="614.32" x2="90.3" y2="614.32" stroke="#d4d4d4" stroke-width="1"/>
<line x1="28" y1="591.5" x2="90.3" y2="591.5" stroke="#d4d4d4" stroke-width="1"/>
<line x1="32" y1="591.5" x2="32" y2="705.6" stroke="#c8c8c8" stroke-width="1"/>
<line x1="28" y1="705.6" x2="90.3" y2="705.6" stroke="#d4d4d4" stroke-width="1"/>
<text x="25.7" y="708.35" font-size="8.1" text-anchor="end" fill="#000" style="stroke-width:0.3px">0</text>
<text x="25.7" y="685.53" font-size="8.1" text-anchor="end" fill="#000" style="stroke-width:0.3px">20</text>
<text x="25.7" y="662.71" font-size="8.1" text-anchor="end" fill="#000" style="stroke-width:0.3px">40</text>
<text x="25.7" y="639.89" font-size="8.1" text-anchor="end" fill="#000" style="stroke-width:0.3px">60</text>
<text x="25.7" y="617.07" font-size="8.1" text-anchor="end" fill="#000" style="stroke-width:0.3px">80</text>
<text x="25.7" y="594.25" font-size="8.1" text-anchor="end" fill="#000" style="stroke-width:0.3px">100</text>
<rect x="41.7" y="685.63" width="11.1" height="19.97" fill="#fff" stroke="#000" stroke-width="1"/>
<line x1="47.25" y1="678.1" x2="47.25" y2="685.63" stroke="#000" stroke-width="1"/>
<line x1="45.25" y1="678.1" x2="49.25" y2="678.1" stroke="#000" stroke-width="1"/>
<rect x="53.8" y="597.21" width="11.4" height="108.39" fill="#808080" stroke="#000" stroke-width="1"/>
<line x1="59.5" y1="596.18" x2="59.5" y2="597.21" stroke="#000" stroke-width="1"/>
<line x1="57.5" y1="596.18" x2="61.5" y2="596.18" stroke="#000" stroke-width="1"/>
<rect x="65.7" y="591.5" width="12.5" height="114.1" fill="#000" stroke="none" stroke-width="0"/>
<text x="61" y="720.6" font-size="10.7" text-anchor="middle" fill="#000" style="stroke-width:0.3px">Lin- BM</text>
<line x1="40.7" y1="582" x2="46.8" y2="582" stroke="#8a8a8a" stroke-width="1"/>
<line x1="55.2" y1="582" x2="60.9" y2="582" stroke="#8a8a8a" stroke-width="1"/>
<line x1="40.7" y1="581.5" x2="40.7" y2="589.4" stroke="#8a8a8a" stroke-width="1"/>
<line x1="60.9" y1="581.5" x2="60.9" y2="589" stroke="#8a8a8a" stroke-width="1"/>
<path d="M51,582.2L51,579.6M51,582.2L53.47,581.4M51,582.2L52.53,584.3M51,582.2L49.47,584.3M51,582.2L48.53,581.4" stroke="#505050" stroke-width="1.6" stroke-linecap="round" fill="none"/>
<line x1="104.7" y1="682.78" x2="167" y2="682.78" stroke="#d4d4d4" stroke-width="1"/>
<line x1="104.7" y1="659.96" x2="167" y2="659.96" stroke="#d4d4d4" stroke-width="1"/>
<line x1="104.7" y1="637.14" x2="167" y2="637.14" stroke="#d4d4d4" stroke-width="1"/>
<line x1="104.7" y1="614.32" x2="167" y2="614.32" stroke="#d4d4d4" stroke-width="1"/>
<line x1="104.7" y1="591.5" x2="167" y2="591.5" stroke="#d4d4d4" stroke-width="1"/>
<line x1="108.7" y1="591.5" x2="108.7" y2="705.6" stroke="#c8c8c8" stroke-width="1"/>
<line x1="104.7" y1="705.6" x2="167" y2="705.6" stroke="#d4d4d4" stroke-width="1"/>
<text x="102.4" y="708.35" font-size="8.1" text-anchor="end" fill="#000" style="stroke-width:0.3px">0</text>
<text x="102.4" y="685.53" font-size="8.1" text-anchor="end" fill="#000" style="stroke-width:0.3px">20</text>
<text x="102.4" y="662.71" font-size="8.1" text-anchor="end" fill="#000" style="stroke-width:0.3px">40</text>
<text x="102.4" y="639.89" font-size="8.1" text-anchor="end" fill="#000" style="stroke-width:0.3px">60</text>
<text x="102.4" y="617.07" font-size="8.1" text-anchor="end" fill="#000" style="stroke-width:0.3px">80</text>
<text x="102.4" y="594.25" font-size="8.1" text-anchor="end" fill="#000" style="stroke-width:0.3px">100</text>
<rect x="118.2" y="681.3" width="12" height="24.3" fill="#fff" stroke="#000" stroke-width="1"/>
<line x1="124.2" y1="676.5" x2="124.2" y2="681.3" stroke="#000" stroke-width="1"/>
<line x1="122.2" y1="676.5" x2="126.2" y2="676.5" stroke="#000" stroke-width="1"/>
<rect x="131.2" y="596.41" width="11.6" height="109.19" fill="#808080" stroke="#000" stroke-width="1"/>
<line x1="137" y1="594.92" x2="137" y2="596.41" stroke="#000" stroke-width="1"/>
<line x1="135" y1="594.92" x2="139" y2="594.92" stroke="#000" stroke-width="1"/>
<rect x="143.3" y="592.76" width="13.3" height="112.84" fill="#000" stroke="none" stroke-width="0"/>
<line x1="149.95" y1="592.3" x2="149.95" y2="592.76" stroke="#000" stroke-width="1"/>
<line x1="147.95" y1="592.3" x2="151.95" y2="592.3" stroke="#000" stroke-width="1"/>
<text x="137.2" y="720.6" font-size="10.7" text-anchor="middle" fill="#000" style="stroke-width:0.3px">LSK BM</text>
<line x1="118.7" y1="581.5" x2="125.4" y2="581.5" stroke="#8a8a8a" stroke-width="1"/>
<line x1="133.8" y1="581.5" x2="139.2" y2="581.5" stroke="#8a8a8a" stroke-width="1"/>
<line x1="118.7" y1="581" x2="118.7" y2="589" stroke="#8a8a8a" stroke-width="1"/>
<line x1="139.2" y1="581" x2="139.2" y2="589" stroke="#8a8a8a" stroke-width="1"/>
<path d="M129.6,581.7L129.6,579.1M129.6,581.7L132.07,580.9M129.6,581.7L131.13,583.8M129.6,581.7L128.07,583.8M129.6,581.7L127.13,580.9" stroke="#505050" stroke-width="1.6" stroke-linecap="round" fill="none"/>
<line x1="182.3" y1="682.78" x2="244.6" y2="682.78" stroke="#d4d4d4" stroke-width="1"/>
<line x1="182.3" y1="659.96" x2="244.6" y2="659.96" stroke="#d4d4d4" stroke-width="1"/>
<line x1="182.3" y1="637.14" x2="244.6" y2="637.14" stroke="#d4d4d4" stroke-width="1"/>
<line x1="182.3" y1="614.32" x2="244.6" y2="614.32" stroke="#d4d4d4" stroke-width="1"/>
<line x1="182.3" y1="591.5" x2="244.6" y2="591.5" stroke="#d4d4d4" stroke-width="1"/>
<line x1="186.3" y1="591.5" x2="186.3" y2="705.6" stroke="#c8c8c8" stroke-width="1"/>
<line x1="182.3" y1="705.6" x2="244.6" y2="705.6" stroke="#d4d4d4" stroke-width="1"/>
<text x="180" y="708.35" font-size="8.1" text-anchor="end" fill="#000" style="stroke-width:0.3px">0</text>
<text x="180" y="685.53" font-size="8.1" text-anchor="end" fill="#000" style="stroke-width:0.3px">20</text>
<text x="180" y="662.71" font-size="8.1" text-anchor="end" fill="#000" style="stroke-width:0.3px">40</text>
<text x="180" y="639.89" font-size="8.1" text-anchor="end" fill="#000" style="stroke-width:0.3px">60</text>
<text x="180" y="617.07" font-size="8.1" text-anchor="end" fill="#000" style="stroke-width:0.3px">80</text>
<text x="180" y="594.25" font-size="8.1" text-anchor="end" fill="#000" style="stroke-width:0.3px">100</text>
<rect x="196.1" y="666.35" width="12.3" height="39.25" fill="#fff" stroke="#000" stroke-width="1"/>
<line x1="202.25" y1="652.54" x2="202.25" y2="666.35" stroke="#000" stroke-width="1"/>
<line x1="200.25" y1="652.54" x2="204.25" y2="652.54" stroke="#000" stroke-width="1"/>
<rect x="209.4" y="591.84" width="11.7" height="113.76" fill="#808080" stroke="#000" stroke-width="1"/>
<rect x="221.6" y="592.18" width="13.3" height="113.42" fill="#000" stroke="none" stroke-width="0"/>
<text x="215.3" y="720.6" font-size="10.7" text-anchor="middle" fill="#000" style="stroke-width:0.3px">SLAM BM</text>
<line x1="196.9" y1="581.9" x2="202.9" y2="581.9" stroke="#8a8a8a" stroke-width="1"/>
<line x1="211.3" y1="581.9" x2="217.7" y2="581.9" stroke="#8a8a8a" stroke-width="1"/>
<line x1="196.9" y1="581.4" x2="196.9" y2="589.2" stroke="#8a8a8a" stroke-width="1"/>
<line x1="217.7" y1="581.4" x2="217.7" y2="589.2" stroke="#8a8a8a" stroke-width="1"/>
<path d="M207.1,582.1L207.1,579.5M207.1,582.1L209.57,581.3M207.1,582.1L208.63,584.2M207.1,582.1L205.57,584.2M207.1,582.1L204.63,581.3" stroke="#505050" stroke-width="1.6" stroke-linecap="round" fill="none"/>
<line x1="298.6" y1="682.78" x2="360.9" y2="682.78" stroke="#d4d4d4" stroke-width="1"/>
<line x1="298.6" y1="659.96" x2="360.9" y2="659.96" stroke="#d4d4d4" stroke-width="1"/>
<line x1="298.6" y1="637.14" x2="360.9" y2="637.14" stroke="#d4d4d4" stroke-width="1"/>
<line x1="298.6" y1="614.32" x2="360.9" y2="614.32" stroke="#d4d4d4" stroke-width="1"/>
<line x1="298.6" y1="591.5" x2="360.9" y2="591.5" stroke="#d4d4d4" stroke-width="1"/>
<line x1="302.6" y1="591.5" x2="302.6" y2="705.6" stroke="#c8c8c8" stroke-width="1"/>
<line x1="298.6" y1="705.6" x2="360.9" y2="705.6" stroke="#d4d4d4" stroke-width="1"/>
<text x="296.6" y="708.35" font-size="8.1" text-anchor="end" fill="#000" style="stroke-width:0.3px">0</text>
<text x="296.6" y="685.53" font-size="8.1" text-anchor="end" fill="#000" style="stroke-width:0.3px">20</text>
<text x="296.6" y="662.71" font-size="8.1" text-anchor="end" fill="#000" style="stroke-width:0.3px">40</text>
<text x="296.6" y="639.89" font-size="8.1" text-anchor="end" fill="#000" style="stroke-width:0.3px">60</text>
<text x="296.6" y="617.07" font-size="8.1" text-anchor="end" fill="#000" style="stroke-width:0.3px">80</text>
<text x="296.6" y="594.25" font-size="8.1" text-anchor="end" fill="#000" style="stroke-width:0.3px">100</text>
<rect x="312.9" y="694.08" width="12" height="11.52" fill="#fff" stroke="#000" stroke-width="1"/>
<line x1="318.9" y1="690.88" x2="318.9" y2="694.08" stroke="#000" stroke-width="1"/>
<line x1="316.9" y1="690.88" x2="320.9" y2="690.88" stroke="#000" stroke-width="1"/>
<rect x="325.9" y="631.66" width="10.7" height="73.94" fill="#808080" stroke="#000" stroke-width="1"/>
<line x1="331.25" y1="629.95" x2="331.25" y2="631.66" stroke="#000" stroke-width="1"/>
<line x1="329.25" y1="629.95" x2="333.25" y2="629.95" stroke="#000" stroke-width="1"/>
<rect x="337.1" y="594.58" width="12.8" height="111.02" fill="#000" stroke="none" stroke-width="0"/>
<line x1="343.5" y1="593.78" x2="343.5" y2="594.58" stroke="#000" stroke-width="1"/>
<line x1="341.5" y1="593.78" x2="345.5" y2="593.78" stroke="#000" stroke-width="1"/>
<text x="329.7" y="720.6" font-size="10.7" text-anchor="middle" fill="#000" style="stroke-width:0.3px">Lin- SP</text>
<line x1="324.7" y1="582.7" x2="330.4" y2="582.7" stroke="#8a8a8a" stroke-width="1"/>
<line x1="338.8" y1="582.7" x2="344.8" y2="582.7" stroke="#8a8a8a" stroke-width="1"/>
<line x1="324.7" y1="582.2" x2="324.7" y2="590" stroke="#8a8a8a" stroke-width="1"/>
<line x1="344.8" y1="582.2" x2="344.8" y2="590" stroke="#8a8a8a" stroke-width="1"/>
<path d="M334.6,582.9L334.6,580.3M334.6,582.9L337.07,582.1M334.6,582.9L336.13,585M334.6,582.9L333.07,585M334.6,582.9L332.13,582.1" stroke="#505050" stroke-width="1.6" stroke-linecap="round" fill="none"/>
<line x1="375.4" y1="682.78" x2="437.7" y2="682.78" stroke="#d4d4d4" stroke-width="1"/>
<line x1="375.4" y1="659.96" x2="437.7" y2="659.96" stroke="#d4d4d4" stroke-width="1"/>
<line x1="375.4" y1="637.14" x2="437.7" y2="637.14" stroke="#d4d4d4" stroke-width="1"/>
<line x1="375.4" y1="614.32" x2="437.7" y2="614.32" stroke="#d4d4d4" stroke-width="1"/>
<line x1="375.4" y1="591.5" x2="437.7" y2="591.5" stroke="#d4d4d4" stroke-width="1"/>
<line x1="379.4" y1="591.5" x2="379.4" y2="705.6" stroke="#c8c8c8" stroke-width="1"/>
<line x1="375.4" y1="705.6" x2="437.7" y2="705.6" stroke="#d4d4d4" stroke-width="1"/>
<text x="373.4" y="708.35" font-size="8.1" text-anchor="end" fill="#000" style="stroke-width:0.3px">0</text>
<text x="373.4" y="685.53" font-size="8.1" text-anchor="end" fill="#000" style="stroke-width:0.3px">20</text>
<text x="373.4" y="662.71" font-size="8.1" text-anchor="end" fill="#000" style="stroke-width:0.3px">40</text>
<text x="373.4" y="639.89" font-size="8.1" text-anchor="end" fill="#000" style="stroke-width:0.3px">60</text>
<text x="373.4" y="617.07" font-size="8.1" text-anchor="end" fill="#000" style="stroke-width:0.3px">80</text>
<text x="373.4" y="594.25" font-size="8.1" text-anchor="end" fill="#000" style="stroke-width:0.3px">100</text>
<rect x="389" y="690.08" width="12" height="15.52" fill="#fff" stroke="#000" stroke-width="1"/>
<line x1="395" y1="685.29" x2="395" y2="690.08" stroke="#000" stroke-width="1"/>
<line x1="393" y1="685.29" x2="397" y2="685.29" stroke="#000" stroke-width="1"/>
<rect x="402" y="619.34" width="11.5" height="86.26" fill="#808080" stroke="#000" stroke-width="1"/>
<line x1="407.75" y1="618.31" x2="407.75" y2="619.34" stroke="#000" stroke-width="1"/>
<line x1="405.75" y1="618.31" x2="409.75" y2="618.31" stroke="#000" stroke-width="1"/>
<rect x="414" y="594.58" width="13.4" height="111.02" fill="#000" stroke="none" stroke-width="0"/>
<line x1="420.7" y1="593.78" x2="420.7" y2="594.58" stroke="#000" stroke-width="1"/>
<line x1="418.7" y1="593.78" x2="422.7" y2="593.78" stroke="#000" stroke-width="1"/>
<text x="408.2" y="720.6" font-size="10.7" text-anchor="middle" fill="#000" style="stroke-width:0.3px">LSK SP</text>
<line x1="402.6" y1="582.5" x2="409" y2="582.5" stroke="#8a8a8a" stroke-width="1"/>
<line x1="417.4" y1="582.5" x2="422.7" y2="582.5" stroke="#8a8a8a" stroke-width="1"/>
<line x1="402.6" y1="582" x2="402.6" y2="590.3" stroke="#8a8a8a" stroke-width="1"/>
<line x1="422.7" y1="582" x2="422.7" y2="590.3" stroke="#8a8a8a" stroke-width="1"/>
<path d="M413.2,582.7L413.2,580.1M413.2,582.7L415.67,581.9M413.2,582.7L414.73,584.8M413.2,582.7L411.67,584.8M413.2,582.7L410.73,581.9" stroke="#505050" stroke-width="1.6" stroke-linecap="round" fill="none"/>
<line x1="453.2" y1="682.78" x2="515.5" y2="682.78" stroke="#d4d4d4" stroke-width="1"/>
<line x1="453.2" y1="659.96" x2="515.5" y2="659.96" stroke="#d4d4d4" stroke-width="1"/>
<line x1="453.2" y1="637.14" x2="515.5" y2="637.14" stroke="#d4d4d4" stroke-width="1"/>
<line x1="453.2" y1="614.32" x2="515.5" y2="614.32" stroke="#d4d4d4" stroke-width="1"/>
<line x1="453.2" y1="591.5" x2="515.5" y2="591.5" stroke="#d4d4d4" stroke-width="1"/>
<line x1="457.2" y1="591.5" x2="457.2" y2="705.6" stroke="#c8c8c8" stroke-width="1"/>
<line x1="453.2" y1="705.6" x2="515.5" y2="705.6" stroke="#d4d4d4" stroke-width="1"/>
<text x="451.2" y="708.35" font-size="8.1" text-anchor="end" fill="#000" style="stroke-width:0.3px">0</text>
<text x="451.2" y="685.53" font-size="8.1" text-anchor="end" fill="#000" style="stroke-width:0.3px">20</text>
<text x="451.2" y="662.71" font-size="8.1" text-anchor="end" fill="#000" style="stroke-width:0.3px">40</text>
<text x="451.2" y="639.89" font-size="8.1" text-anchor="end" fill="#000" style="stroke-width:0.3px">60</text>
<text x="451.2" y="617.07" font-size="8.1" text-anchor="end" fill="#000" style="stroke-width:0.3px">80</text>
<text x="451.2" y="594.25" font-size="8.1" text-anchor="end" fill="#000" style="stroke-width:0.3px">100</text>
<rect x="467.4" y="662.58" width="11.9" height="43.02" fill="#fff" stroke="#000" stroke-width="1" stroke-dasharray="2.2 1.6"/>
<line x1="473.35" y1="635.43" x2="473.35" y2="662.58" stroke="#000" stroke-width="1" stroke-dasharray="2.2 1.6"/>
<line x1="471.35" y1="635.43" x2="475.35" y2="635.43" stroke="#000" stroke-width="1"/>
<rect x="480.7" y="602.45" width="11" height="103.15" fill="#808080" stroke="#000" stroke-width="1"/>
<line x1="486.2" y1="593.21" x2="486.2" y2="602.45" stroke="#000" stroke-width="1"/>
<line x1="484.2" y1="593.21" x2="488.2" y2="593.21" stroke="#000" stroke-width="1"/>
<rect x="492.2" y="591.5" width="13.4" height="114.1" fill="#000" stroke="none" stroke-width="0"/>
<text x="486.2" y="720.6" font-size="10.7" text-anchor="middle" fill="#000" style="stroke-width:0.3px">SLAM SP</text>
<path d="M472.2,630.2L472.2,628M472.2,630.2L474.29,629.52M472.2,630.2L473.49,631.98M472.2,630.2L470.91,631.98M472.2,630.2L470.11,629.52" stroke="#000" stroke-width="1.6" stroke-linecap="round" fill="none"/>
<path d="M478.6,630.2L478.6,628M478.6,630.2L480.69,629.52M478.6,630.2L479.89,631.98M478.6,630.2L477.31,631.98M478.6,630.2L476.51,629.52" stroke="#000" stroke-width="1.6" stroke-linecap="round" fill="none"/>
<line x1="379.8" y1="501.78" x2="437" y2="501.78" stroke="#d4d4d4" stroke-width="1"/>
<line x1="379.8" y1="457.94" x2="437" y2="457.94" stroke="#d4d4d4" stroke-width="1"/>
<line x1="379.8" y1="436.02" x2="437" y2="436.02" stroke="#d4d4d4" stroke-width="1"/>
<line x1="379.8" y1="414.1" x2="437" y2="414.1" stroke="#d4d4d4" stroke-width="1"/>
<text x="372.7" y="526.9" font-size="9.4" font-weight="bold" text-anchor="end" fill="#000" style="stroke-width:0.15px">0.0</text>
<text x="372.7" y="504.98" font-size="9.4" font-weight="bold" text-anchor="end" fill="#000" style="stroke-width:0.15px">0.2</text>
<text x="372.7" y="483.06" font-size="9.4" font-weight="bold" text-anchor="end" fill="#000" style="stroke-width:0.15px">0.4</text>
<text x="372.7" y="461.14" font-size="9.4" font-weight="bold" text-anchor="end" fill="#000" style="stroke-width:0.15px">0.6</text>
<text x="372.7" y="439.22" font-size="9.4" font-weight="bold" text-anchor="end" fill="#000" style="stroke-width:0.15px">0.8</text>
<text x="372.7" y="417.3" font-size="9.4" font-weight="bold" text-anchor="end" fill="#000" style="stroke-width:0.15px">1.0</text>
<rect x="390.8" y="511.86" width="11.3" height="11.84" fill="#fff" stroke="#000" stroke-width="1"/>
<line x1="396.45" y1="509.78" x2="396.45" y2="511.86" stroke="#777" stroke-width="0.8"/>
<line x1="394.45" y1="509.78" x2="398.45" y2="509.78" stroke="#777" stroke-width="0.8"/>
<rect x="403.1" y="437.44" width="11.4" height="86.26" fill="#b0b0b0" stroke="#555" stroke-width="1"/>
<line x1="408.8" y1="420.68" x2="408.8" y2="437.44" stroke="#777" stroke-width="0.8"/>
<line x1="406.8" y1="420.68" x2="410.8" y2="420.68" stroke="#777" stroke-width="0.8"/>
<rect x="415" y="445.45" width="12.7" height="78.25" fill="#000" stroke="none" stroke-width="0"/>
<line x1="421.35" y1="436.02" x2="421.35" y2="445.45" stroke="#777" stroke-width="0.8"/>
<line x1="419.35" y1="436.02" x2="423.35" y2="436.02" stroke="#777" stroke-width="0.8"/>
<text x="409" y="533.5" font-size="9.2" text-anchor="middle" fill="#000" style="stroke-width:0.1px">Spleen</text>
<text x="409" y="542.7" font-size="9.2" text-anchor="middle" fill="#000" style="stroke-width:0.1px">weight</text>
<line x1="390.3" y1="409.5" x2="396.5" y2="409.5" stroke="#8a8a8a" stroke-width="1"/>
<line x1="404.9" y1="409.5" x2="410.7" y2="409.5" stroke="#8a8a8a" stroke-width="1"/>
<line x1="390.3" y1="409" x2="390.3" y2="416.8" stroke="#8a8a8a" stroke-width="1"/>
<line x1="410.7" y1="409" x2="410.7" y2="416.8" stroke="#8a8a8a" stroke-width="1"/>
<path d="M400.7,409.7L400.7,407.1M400.7,409.7L403.17,408.9M400.7,409.7L402.23,411.8M400.7,409.7L399.17,411.8M400.7,409.7L398.23,408.9" stroke="#505050" stroke-width="1.6" stroke-linecap="round" fill="none"/>
<line x1="452.3" y1="496.65" x2="511" y2="496.65" stroke="#d4d4d4" stroke-width="1"/>
<line x1="452.3" y1="468.9" x2="511" y2="468.9" stroke="#d4d4d4" stroke-width="1"/>
<line x1="452.3" y1="441.15" x2="511" y2="441.15" stroke="#d4d4d4" stroke-width="1"/>
<line x1="452.3" y1="413.4" x2="511" y2="413.4" stroke="#d4d4d4" stroke-width="1"/>
<line x1="456.3" y1="413.4" x2="456.3" y2="526.6" stroke="#c8c8c8" stroke-width="1"/>
<text x="447.8" y="527.73" font-size="9.8" text-anchor="end" fill="#000" style="stroke-width:0.3px">0</text>
<text x="447.8" y="499.98" font-size="9.8" text-anchor="end" fill="#000" style="stroke-width:0.3px">5</text>
<text x="447.8" y="472.23" font-size="9.8" text-anchor="end" fill="#000" style="stroke-width:0.3px">10</text>
<text x="447.8" y="444.48" font-size="9.8" text-anchor="end" fill="#000" style="stroke-width:0.3px">15</text>
<text x="447.8" y="416.73" font-size="9.8" text-anchor="end" fill="#000" style="stroke-width:0.3px">20</text>
<rect x="466" y="427.27" width="11.1" height="97.12" fill="#fff" stroke="#000" stroke-width="1"/>
<line x1="471.55" y1="423.39" x2="471.55" y2="427.27" stroke="#777" stroke-width="0.8"/>
<line x1="469.55" y1="423.39" x2="473.55" y2="423.39" stroke="#777" stroke-width="0.8"/>
<rect x="478.1" y="465.57" width="11.1" height="58.83" fill="#b0b0b0" stroke="#555" stroke-width="1"/>
<rect x="489.7" y="468.9" width="12.1" height="55.5" fill="#000" stroke="none" stroke-width="0"/>
<line x1="495.75" y1="441.7" x2="495.75" y2="468.9" stroke="#777" stroke-width="0.8"/>
<line x1="493.75" y1="441.7" x2="497.75" y2="441.7" stroke="#777" stroke-width="0.8"/>
<text x="483.4" y="533.5" font-size="9.2" text-anchor="middle" fill="#000" style="stroke-width:0.1px">Cells per</text>
<text x="483.6" y="543" font-size="9.2" text-anchor="middle" fill="#000" style="stroke-width:0.1px">femur</text>
<line x1="472" y1="409.4" x2="478.6" y2="409.4" stroke="#8a8a8a" stroke-width="1"/>
<line x1="487" y1="409.4" x2="492.3" y2="409.4" stroke="#8a8a8a" stroke-width="1"/>
<line x1="472" y1="408.9" x2="472" y2="417.3" stroke="#8a8a8a" stroke-width="1"/>
<line x1="492.3" y1="408.9" x2="492.3" y2="417.3" stroke="#8a8a8a" stroke-width="1"/>
<path d="M482.8,409.6L482.8,407M482.8,409.6L485.27,408.8M482.8,409.6L484.33,411.7M482.8,409.6L481.27,411.7M482.8,409.6L480.33,408.8" stroke="#505050" stroke-width="1.6" stroke-linecap="round" fill="none"/>
</g>
</svg></body></html>
